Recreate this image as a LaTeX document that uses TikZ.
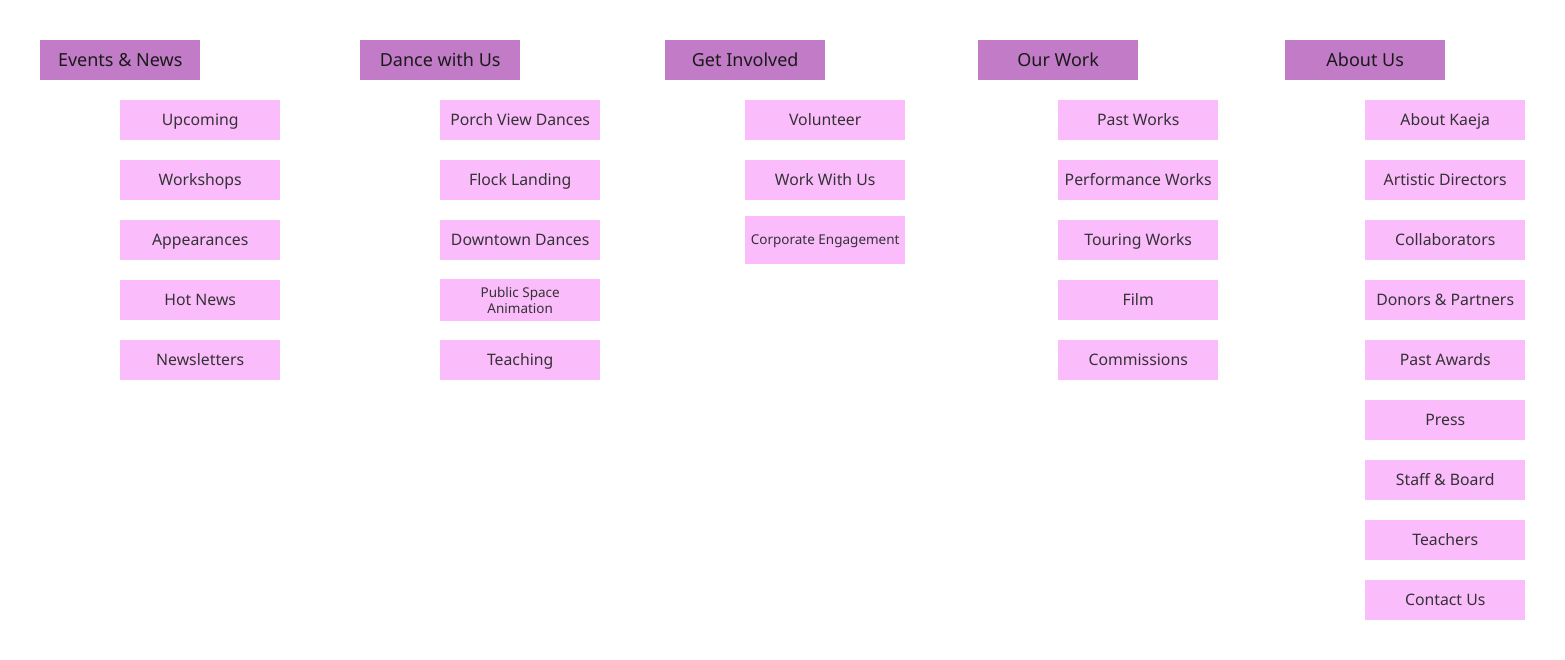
\documentclass[tikz,border=0pt]{standalone}
\usepackage{fontspec}
\setmainfont{Noto Sans}
\definecolor{headfill}{HTML}{C27BC6}
\definecolor{childfill}{HTML}{FBBCFC}
\definecolor{childtext}{HTML}{333333}
\definecolor{headtext}{HTML}{1A1A1A}
\begin{document}
\begin{tikzpicture}[x=1pt,y=-1pt,
  headbox/.style={fill=headfill, text=headtext, minimum width=160pt, minimum height=40pt, inner sep=0pt, font=\fontsize{18}{20}\selectfont, text height=12.9pt, text depth=0pt, anchor=north west},
  childbox/.style={fill=childfill, text=childtext, minimum width=160pt, minimum height=40pt, inner sep=0pt, font=\fontsize{15.8}{18}\selectfont, text height=11.3pt, text depth=0pt, anchor=north west},
  smallbox/.style={fill=childfill, text=childtext, minimum width=160pt, inner sep=0pt, font=\fontsize{13.5}{15.5}\selectfont, anchor=north west, align=center}]
\useasboundingbox (0,0) rectangle (1565,660);
% Column 1
\node[headbox] (h1) at (40,40) {Events \& News};
\node[childbox] (c11) at (120,100) {Upcoming};
\node[childbox] (c12) at (120,160) {Workshops};
\node[childbox] (c13) at (120,220) {Appearances};
\node[childbox] (c14) at (120,280) {Hot News};
\node[childbox] (c15) at (120,340) {Newsletters};
% Column 2
\node[headbox] (h2) at (360,40) {Dance with Us};
\node[childbox] (c21) at (440,100) {Porch View Dances};
\node[childbox] (c22) at (440,160) {Flock Landing};
\node[childbox] (c23) at (440,220) {Downtown Dances};
\node[smallbox, minimum height=42pt] (c24) at (440,279) {Public Space\\Animation};
\node[childbox] (c25) at (440,340) {Teaching};
% Column 3
\node[headbox] (h3) at (665,40) {Get Involved};
\node[childbox] (c31) at (745,100) {Volunteer};
\node[childbox] (c32) at (745,160) {Work With Us};
\node[smallbox, minimum height=48pt, text height=9.6pt, text depth=0pt] (c33) at (745,216) {Corporate Engagement};
% Column 4
\node[headbox] (h4) at (978,40) {Our Work};
\node[childbox] (c41) at (1058,100) {Past Works};
\node[childbox] (c42) at (1058,160) {Performance Works};
\node[childbox] (c43) at (1058,220) {Touring Works};
\node[childbox] (c44) at (1058,280) {Film};
\node[childbox] (c45) at (1058,340) {Commissions};
% Column 5
\node[headbox] (h5) at (1285,40) {About Us};
\node[childbox] (c51) at (1365,100) {About Kaeja};
\node[childbox] (c52) at (1365,160) {Artistic Directors};
\node[childbox] (c53) at (1365,220) {Collaborators};
\node[childbox] (c54) at (1365,280) {Donors \& Partners};
\node[childbox] (c55) at (1365,340) {Past Awards};
\node[childbox] (c56) at (1365,400) {Press};
\node[childbox] (c57) at (1365,460) {Staff \& Board};
\node[childbox] (c58) at (1365,520) {Teachers};
\node[childbox] (c59) at (1365,580) {Contact Us};
\end{tikzpicture}
\end{document}
